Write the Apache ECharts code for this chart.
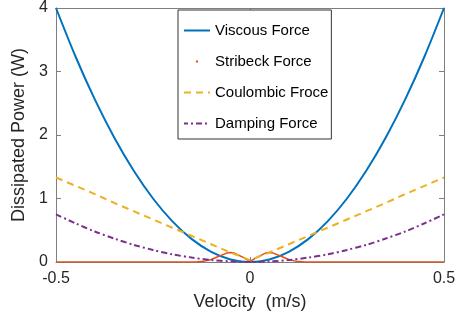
<!DOCTYPE html>
<html>
<head>
<meta charset="utf-8">
<script src="https://cdn.jsdelivr.net/npm/echarts@6/dist/echarts.min.js"></script>
<style>
body{margin:0;padding:0;background:#fff;}
#main{width:461px;height:322px;}
</style>
</head>
<body>
<div id="main"></div>
<script type="text/javascript">
// velocity grid (m/s), 0.05 steps
var velocity = [-0.5,-0.45,-0.4,-0.35,-0.3,-0.25,-0.2,-0.15,-0.1,-0.05,0,0.05,0.1,0.15,0.2,0.25,0.3,0.35,0.4,0.45,0.5];
var viscous  = [4.00,3.24,2.56,1.96,1.44,1.00,0.64,0.36,0.16,0.04,0.00,0.04,0.16,0.36,0.64,1.00,1.44,1.96,2.56,3.24,4.00];
var coulomb  = [1.33,1.20,1.07,0.93,0.80,0.67,0.54,0.41,0.28,0.15,0.03,0.15,0.28,0.41,0.54,0.67,0.80,0.93,1.07,1.20,1.33];
var damping  = [0.75,0.61,0.48,0.37,0.27,0.19,0.12,0.07,0.03,0.01,0.00,0.01,0.03,0.07,0.12,0.19,0.27,0.37,0.48,0.61,0.75];
// stribeck has a finer grid near zero
var stribeckV = [-0.5,-0.2,-0.14,-0.12,-0.1,-0.08,-0.06,-0.05,-0.04,-0.02,0,0.02,0.04,0.05,0.06,0.08,0.1,0.12,0.14,0.2,0.5];
var stribeck  = [0,0,0,0.01,0.04,0.09,0.14,0.15,0.14,0.08,0.01,0.08,0.14,0.15,0.14,0.09,0.04,0.01,0,0,0];

function pairs(xs, ys){
  var out = [];
  for (var i = 0; i < xs.length; i++) out.push([xs[i], ys[i]]);
  return out;
}

var myChart = echarts.init(document.getElementById('main'));
var axisGray = '#7f7f7f';
var txt = '#262626';
var font = 'Liberation Sans, Arial, sans-serif';

option = {
  animation:false,
  textStyle:{fontFamily:font},
  grid:{left:56,right:17,top:4,bottom:60},
  legend:{
    orient:'vertical',
    left:178, top:10,
    padding:[13,3,8,5],
    itemWidth:26, itemHeight:14, itemGap:16,
    borderColor:'#333', borderWidth:1,
    backgroundColor:'#fff',
    textStyle:{fontSize:15,color:'#000',fontFamily:font},
    data:[
      {name:'Viscous Force', itemStyle:{opacity:0}},
      {name:'Stribeck Force', itemStyle:{opacity:0}, lineStyle:{type:[2,40],dashOffset:-12,width:2}},
      {name:'Coulombic Froce', itemStyle:{opacity:0}},
      {name:'Damping Force', itemStyle:{opacity:0}}
    ]
  },
  xAxis:[{
    type:'value', min:-0.5, max:0.5, interval:0.5,
    name:'Velocity  (m/s)', nameLocation:'middle', nameGap:31,
    nameTextStyle:{fontSize:18,color:txt},
    axisLine:{onZero:false,lineStyle:{color:axisGray}},
    axisTick:{inside:true,length:5,lineStyle:{color:axisGray}},
    axisLabel:{fontSize:16,color:txt,margin:9,formatter:function(v){return v===0?'0':String(v);}},
    splitLine:{show:false}
  },{
    type:'value', min:-0.5, max:0.5, interval:0.5, position:'top',
    axisLine:{onZero:false,lineStyle:{color:axisGray}},
    axisTick:{inside:true,length:5,lineStyle:{color:axisGray}},
    axisLabel:{show:false}, splitLine:{show:false}
  }],
  yAxis:[{
    type:'value', min:0, max:4, interval:1,
    name:'Dissipated Power (W)', nameLocation:'middle', nameGap:22,
    nameTextStyle:{fontSize:18,color:txt},
    axisLine:{show:true,onZero:false,lineStyle:{color:axisGray}},
    axisTick:{show:true,inside:true,length:5,lineStyle:{color:axisGray}},
    axisLabel:{fontSize:16,color:txt,margin:8},
    splitLine:{show:false}
  },{
    type:'value', min:0, max:4, interval:1, position:'right',
    axisLine:{show:true,onZero:false,lineStyle:{color:axisGray}},
    axisTick:{show:true,inside:true,length:5,lineStyle:{color:axisGray}},
    axisLabel:{show:false}, splitLine:{show:false}
  }],
  series:[
    {name:'Viscous Force',type:'line',data:pairs(velocity,viscous),showSymbol:false,smooth:0.3,
     itemStyle:{color:'#0072BD'},lineStyle:{width:2,color:'#0072BD'}},
    {name:'Stribeck Force',type:'line',data:pairs(stribeckV,stribeck),showSymbol:false,
     itemStyle:{color:'#D95319'},lineStyle:{width:1.5,color:'#D95319'}},
    {name:'Coulombic Froce',type:'line',data:pairs(velocity,coulomb),showSymbol:false,
     itemStyle:{color:'#EDB120'},lineStyle:{width:2,color:'#EDB120',type:[7,5]}},
    {name:'Damping Force',type:'line',data:pairs(velocity,damping),showSymbol:false,smooth:0.3,
     itemStyle:{color:'#7E2F8E'},lineStyle:{width:2,color:'#7E2F8E',type:[6,3,2,3]}}
  ]
};
myChart.setOption(option);
</script>
</body>
</html>
